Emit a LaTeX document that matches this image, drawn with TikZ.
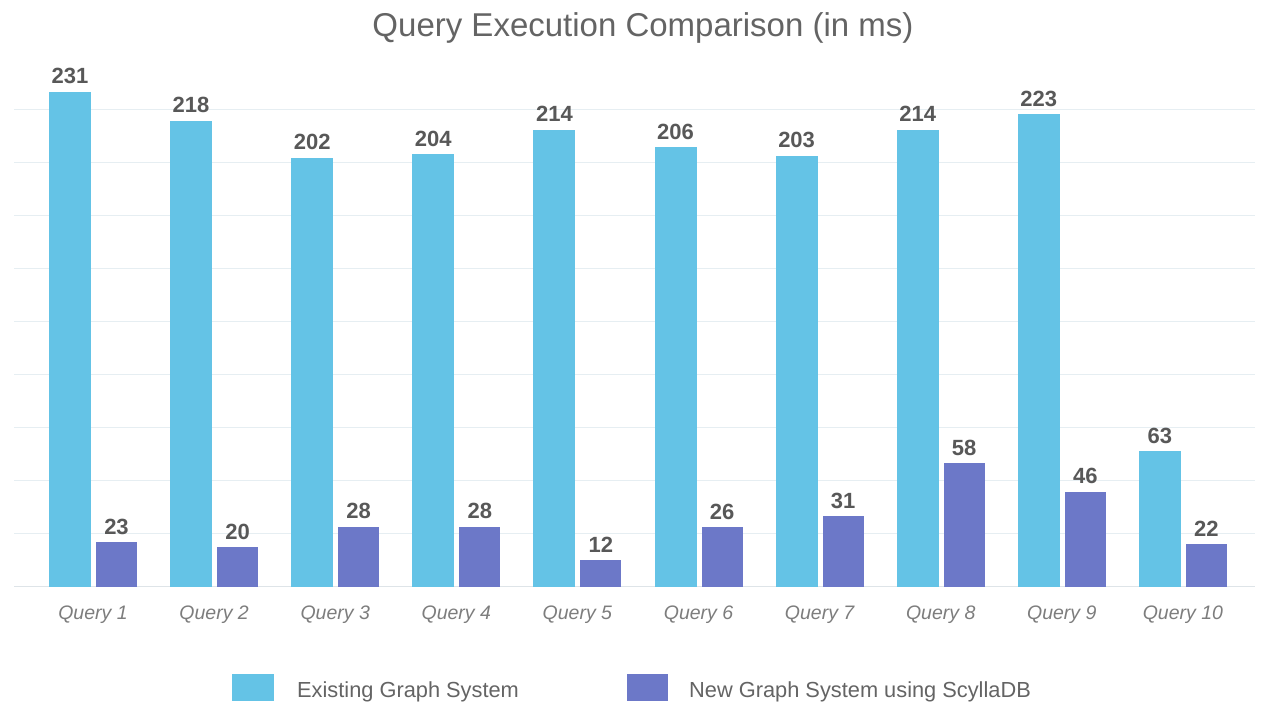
\documentclass[tikz,border=0pt]{standalone}
\usepackage{fontspec}
\setmainfont{Liberation Sans}
\definecolor{cyanbar}{RGB}{100,195,230}
\definecolor{purplebar}{RGB}{108,120,200}
\definecolor{gridc}{RGB}{230,238,242}
\definecolor{basec}{RGB}{222,228,232}
\definecolor{valc}{RGB}{88,88,88}
\definecolor{labc}{RGB}{125,125,125}
\definecolor{titlec}{RGB}{100,100,100}
\begin{document}
\begin{tikzpicture}[x=1pt,y=1pt,
  gridline/.style={draw=gridc,line width=1.6pt},
  baseline/.style={draw=basec,line width=1.8pt},
  barA/.style={fill=cyanbar},
  barB/.style={fill=purplebar},
  vallabel/.style={font=\fontsize{22}{26}\selectfont\bfseries,text=valc,inner sep=0pt,anchor=base},
  qlabel/.style={font=\fontsize{19.5}{23}\selectfont\itshape,text=labc,inner sep=0pt,anchor=base},
  legtext/.style={font=\fontsize{21.8}{25}\selectfont,text=titlec,inner sep=0pt,anchor=base west},
  titletext/.style={font=\fontsize{33}{38}\selectfont,text=titlec,inner sep=0pt,anchor=base}
]
\useasboundingbox (0,0) rectangle (1265,705);
\fill[white] (0,0) rectangle (1265,705);
% gridlines
\foreach \k in {1,...,9}{
  \draw[gridline] (14,{118.5+53*\k}) -- (1255,{118.5+53*\k});
}
\draw[baseline] (14,118.5) -- (1255,118.5);
% bars: value A / value B / height A / height B (px)
\foreach \va/\vb/\ha/\hb [count=\i] in {
  231/23/494.5/44.5, 218/20/465.5/39.5, 202/28/428.8/59.8, 204/28/432.2/59.8,
  214/12/456.5/26.5, 206/26/439.2/59.2, 203/31/430.5/70.5, 214/58/456.5/123.2,
  223/46/472.2/94.8, 63/22/135.5/42.5}{
  \pgfmathsetmacro\cx{94+121.1*(\i-1)}
  \pgfmathsetmacro\ta{118.5+\ha}
  \pgfmathsetmacro\tb{118.5+\hb}
  \fill[barA] ({\cx-45},118.5) rectangle ({\cx-3},\ta);
  \fill[barB] ({\cx+2},118.5) rectangle ({\cx+43},\tb);
  \node[vallabel] (va\i) at ({\cx-24},{\ta+8}) {\va};
  \node[vallabel] (vb\i) at ({\cx+22.5},{\tb+8}) {\vb};
  \node[qlabel] (q\i) at ({\cx-1},86) {Query \i};
}
% title
\node[titletext] (title) at (643,668) {Query Execution Comparison (in ms)};
% legend
\fill[barA] (232,4) rectangle (274,31);
\node[legtext] (legA) at (297,8) {Existing Graph System};
\fill[barB] (627,4) rectangle (668,31);
\node[legtext] (legB) at (689,8) {New Graph System using ScyllaDB};
\end{tikzpicture}
\end{document}
